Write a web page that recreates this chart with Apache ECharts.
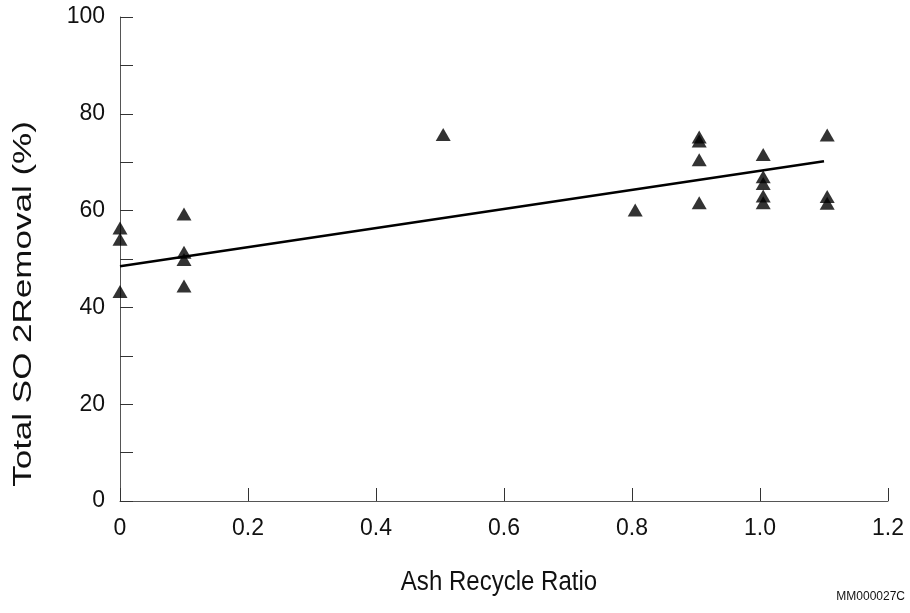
<!DOCTYPE html>
<html>
<head>
<meta charset="utf-8">
<script src="https://cdn.jsdelivr.net/npm/echarts@6/dist/echarts.min.js"></script>
<style>
  html, body { margin: 0; padding: 0; background: #fff; }
  #main { width: 910px; height: 613px; }
</style>
</head>
<body>
<div id="main"></div>
<script>
// measured points (ash recycle ratio, SO2 removal %)
var ptX = [0, 0, 0,
    0.1, 0.1, 0.1, 0.1,
    0.505,
    0.805,
    0.905, 0.905, 0.905, 0.905,
    1.005, 1.005, 1.005, 1.005, 1.005,
    1.105, 1.105, 1.105];
var ptY = [56.4, 54.1, 43.3,
    59.3, 51.4, 49.9, 44.4,
    75.7,
    60.1,
    75.2, 74.4, 70.5, 61.6,
    71.6, 67.0, 65.6, 63.0, 61.6,
    75.6, 62.9, 61.5];

// fitted trend line end points
var fitX = [0, 1.1];
var fitY = [48.5, 70.2];

var xTicks = ['0', '0.2', '0.4', '0.6', '0.8', '1.0', '1.2'];

var chart = echarts.init(document.getElementById('main'));

var pts = ptX.map(function (x, i) { return [x, ptY[i]]; });
var fit = fitX.map(function (x, i) { return [x, fitY[i]]; });

var fontFam = '"Liberation Sans", Arial, sans-serif';

chart.setOption({
    animation: false,
    backgroundColor: '#fff',
    grid: {left: 120, right: 22, top: 17, bottom: 112},
    xAxis: {
        type: 'value',
        min: 0,
        max: 1.2,
        interval: 0.2,
        axisLine: {show: true, lineStyle: {color: '#555', width: 1}},
        axisTick: {show: true, inside: true, length: 13, lineStyle: {color: '#333'}},
        axisLabel: {
            margin: 16,
            fontFamily: fontFam,
            fontSize: 23,
            color: '#111',
            formatter: function (v) { return xTicks[Math.round(v / 0.2)]; }
        },
        splitLine: {show: false}
    },
    yAxis: {
        type: 'value',
        min: 0,
        max: 100,
        interval: 10,
        axisLine: {show: true, lineStyle: {color: '#555', width: 1}},
        axisTick: {show: true, inside: true, length: 13, lineStyle: {color: '#333'}},
        axisLabel: {
            margin: 15,
            fontFamily: fontFam,
            fontSize: 23,
            color: '#111',
            formatter: function (v) { return v % 20 === 0 ? String(v) : ''; }
        },
        splitLine: {show: false}
    },
    graphic: [
        {
            type: 'text',
            x: 24,
            y: 304,
            rotation: Math.PI / 2,
            scaleX: 1.4,
            style: {
                text: 'Total SO 2Removal (%)',
                fontFamily: fontFam,
                fontSize: 25,
                fill: '#111',
                align: 'center',
                verticalAlign: 'middle'
            }
        },
        {
            type: 'text',
            x: 499,
            y: 583,
            scaleX: 0.89,
            style: {
                text: 'Ash Recycle Ratio',
                fontFamily: fontFam,
                fontSize: 27,
                fill: '#111',
                align: 'center',
                verticalAlign: 'middle'
            }
        },
        {
            type: 'text',
            x: 905,
            y: 597,
            style: {
                text: 'MM000027C',
                fontFamily: fontFam,
                fontSize: 12,
                fill: '#111',
                align: 'right',
                verticalAlign: 'middle'
            }
        }
    ],
    series: [
        {
            type: 'line',
            data: fit,
            symbol: 'none',
            lineStyle: {color: '#000', width: 2.5},
            z: 2
        },
        {
            type: 'scatter',
            data: pts,
            symbol: 'triangle',
            symbolSize: [15, 13],
            itemStyle: {color: '#000'},
            z: 3
        }
    ]
});
</script>
</body>
</html>
